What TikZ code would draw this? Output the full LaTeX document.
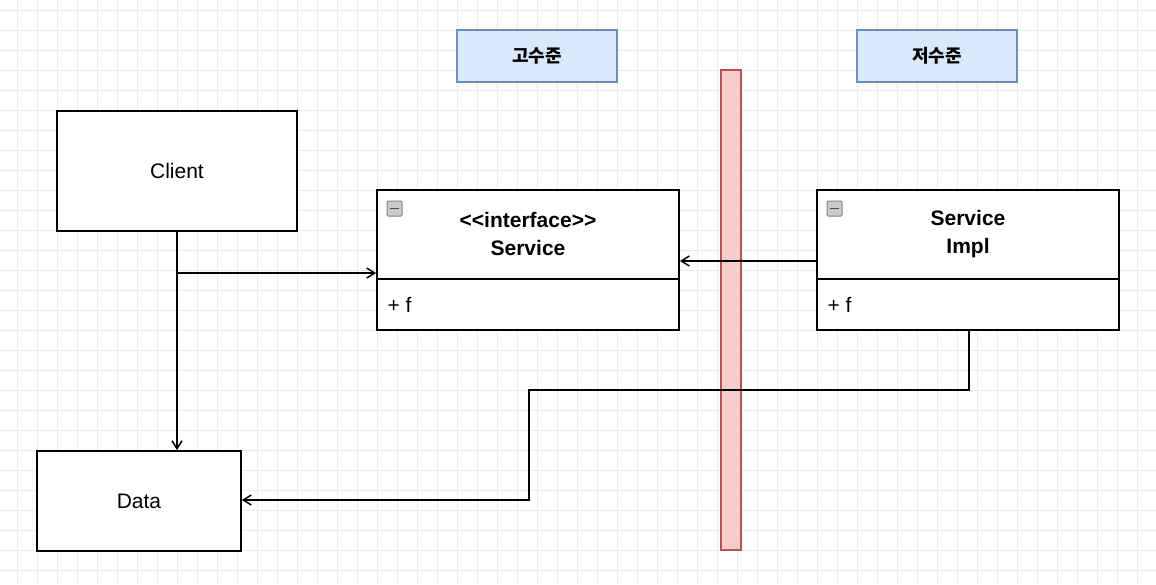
\documentclass[tikz,border=0pt]{standalone}
\usepackage{fontspec}
\setmainfont{Liberation Sans}
\newfontfamily\kr{Noto Sans CJK KR}
\usetikzlibrary{arrows.meta}
\definecolor{bluef}{HTML}{DAE8FC}\definecolor{blued}{HTML}{6C8EBF}
\definecolor{redf}{HTML}{F8CECC}\definecolor{redd}{HTML}{B85450}
\begin{document}
\begin{tikzpicture}[x=1pt,y=-1pt,
 box/.style={draw,line width=1.8pt,fill=white},
 lbl/.style={draw=blued,fill=bluef,line width=1.3pt,font=\kr\bfseries\fontsize{18}{20}\selectfont},
 conn/.style={line width=1.5pt,-{Straight Barb[length=8pt,width=10pt]}},
 icon/.style={draw=gray,fill=gray!40,rounded corners=1pt,line width=1pt}]
\useasboundingbox (0,0) rectangle (1156,584);
\fill[white](0,0) rectangle (1156,584);
\foreach \x in {17,37,...,1156} \draw[black!8,line width=0.8pt](\x,0)--(\x,584);
\foreach \y in {10,30,...,584} \draw[black!8,line width=0.8pt](0,\y)--(1156,\y);
\node[lbl,minimum width=160pt,minimum height=52pt] (hi) at (537,56) {고수준};
\node[lbl,minimum width=160pt,minimum height=52pt] (lo) at (937,56) {저수준};
\draw[draw=redd,fill=redf,line width=1.3pt] (721,70) rectangle (741,550);
\node[box,minimum width=240pt,minimum height=120pt,font=\fontsize{21}{24}\selectfont] (client) at (177,171) {Client};
\node[box,minimum width=204pt,minimum height=100pt,font=\fontsize{21}{24}\selectfont] (data) at (139,501) {Data};
% interface
\node[box,minimum width=302pt,minimum height=140pt] (svc) at (528,260) {};
\draw[line width=1.8pt] (377,279)--(679,279);
\node[font=\bfseries\fontsize{21}{28}\selectfont,align=center] (svct) at (528,234) {{<}{<}interface{>}{>}\\Service};
\node[font=\fontsize{21}{24}\selectfont,anchor=west] (svcf) at (384,305) {+ f};
\draw[icon] (387,201) rectangle (402,216); \draw[line width=1.6pt,black!70](390,208.5)--(399,208.5);
% impl
\node[box,minimum width=302pt,minimum height=140pt] (impl) at (968,260) {};
\draw[line width=1.8pt] (817,279)--(1119,279);
\node[font=\bfseries\fontsize{21}{28}\selectfont,align=center] (implt) at (968,234) {Service\\Impl};
\node[font=\fontsize{21}{24}\selectfont,anchor=west] (implf) at (824,305) {+ f};
\draw[icon] (827,201) rectangle (842,216); \draw[line width=1.6pt,black!70](830,208.5)--(839,208.5);
% connectors
\coordinate (j) at (177,273);
\draw[conn] (client.south) -- (data.north -| client.south);
\draw[conn] (j) -- (svc.west |- j);
\draw[conn] (impl.west |- 0,261) -- (svc.east |- 0,261);
\draw[conn] (969,330) -- (969,390) -- (529,390) -- (529,500) -- (data.east |- 0,500);
\end{tikzpicture}
\end{document}
